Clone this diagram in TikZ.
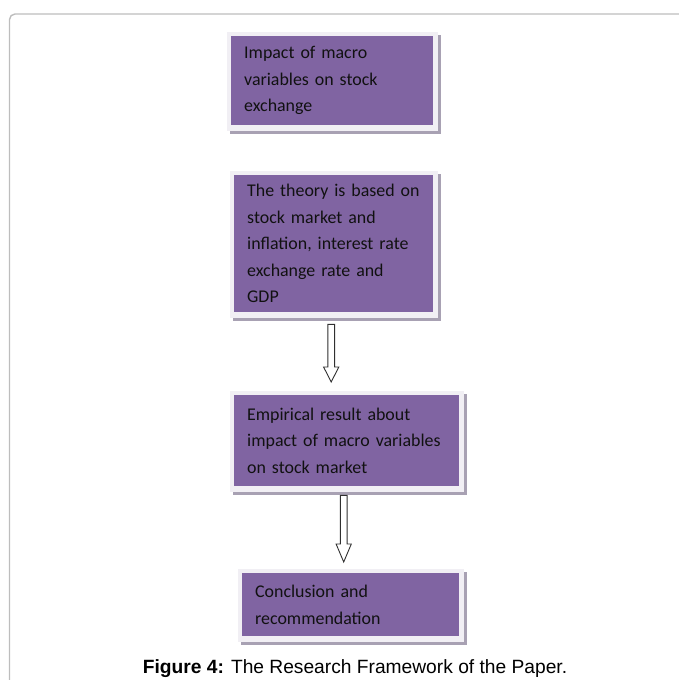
\documentclass[tikz,border=0pt]{standalone}
\usepackage{fontspec}
\setmainfont{Carlito}
\newfontfamily\capfont{Liberation Sans}
\usetikzlibrary{calc,backgrounds}
\definecolor{purp}{HTML}{8064A2}
\definecolor{framec}{HTML}{F1EFF4}
\definecolor{shadowc}{HTML}{A8A1B3}
\definecolor{outerc}{HTML}{BDBDBD}
\definecolor{txtc}{HTML}{111111}
\definecolor{arrc}{HTML}{303030}
\tikzset{
  box/.style={fill=purp, anchor=north west, align=left, inner xsep=13pt, inner ysep=0pt,
    text=txtc, font=\fontsize{17.9}{26.5}\selectfont},
  arrowline/.style={draw=arrc, fill=white, line width=0.9pt, line join=miter},
  captext/.style={font=\capfont\fontsize{19.2}{22}\selectfont, text=black, anchor=base, inner sep=0pt},
  frameline/.style={draw=outerc, line width=1.4pt}
}
\newcommand\blockarr[3]{% start, tip, head length
  \draw[arrowline] ($(#1)+(-3.4,0)$) -- ($(#1)+(3.4,0)$) -- ($(#2)+(3.4,-#3)$) -- ($(#2)+(7.6,-#3)$)
    -- (#2) -- ($(#2)+(-7.6,-#3)$) -- ($(#2)+(-3.4,-#3)$) -- cycle;
}
\begin{document}
\begin{tikzpicture}[x=1pt,y=-1pt]
\useasboundingbox (0,0) rectangle (678,680);
% outer frame
\draw[frameline] (9.5,681) -- (9.5,19.5) arc[start angle=180,end angle=270,radius=5.5] -- (679,14);
% boxes
\node[box, text width=176pt, minimum height=89pt] (b1) at (231,36)
  {Impact of macro\\variables on stock\\exchange};
\node[box, text width=173pt, minimum height=137pt] (b2) at (234,175)
  {The theory is based on\\stock market and\\inflation, interest rate\\exchange rate and\\GDP};
\node[box, text width=199pt, minimum height=91pt] (b3) at (234,395)
  {Empirical result about\\impact of macro variables\\on stock market};
\node[box, text width=191pt, minimum height=63pt] (b4) at (242,573)
  {Conclusion and\\recommendation};
\begin{scope}[on background layer]
\foreach \n in {b1,b2,b3,b4} {
  \fill[shadowc] ($(\n.north west)+(-1,-1)$) rectangle ($(\n.south east)+(8,9)$);
  \fill[framec] ($(\n.north west)+(-4.5,-4.5)$) rectangle ($(\n.south east)+(5,6)$);
}
\end{scope}
% connectors
\coordinate (a1s) at ($(b2.south)+(-2.5,12)$);
\coordinate (a1e) at ($(a1s |- b3.north)+(0,-13)$);
\blockarr{a1s}{a1e}{15}
\coordinate (a2s) at ($(b3.south)+(-3,9)$);
\coordinate (a2e) at ($(a2s |- b4.north)+(0,-11)$);
\blockarr{a2s}{a2e}{18}
% caption
\node[captext] (cap) at (355,673.3) {\textbf{Figure 4:} The Research Framework of the Paper.};
\end{tikzpicture}
\end{document}
